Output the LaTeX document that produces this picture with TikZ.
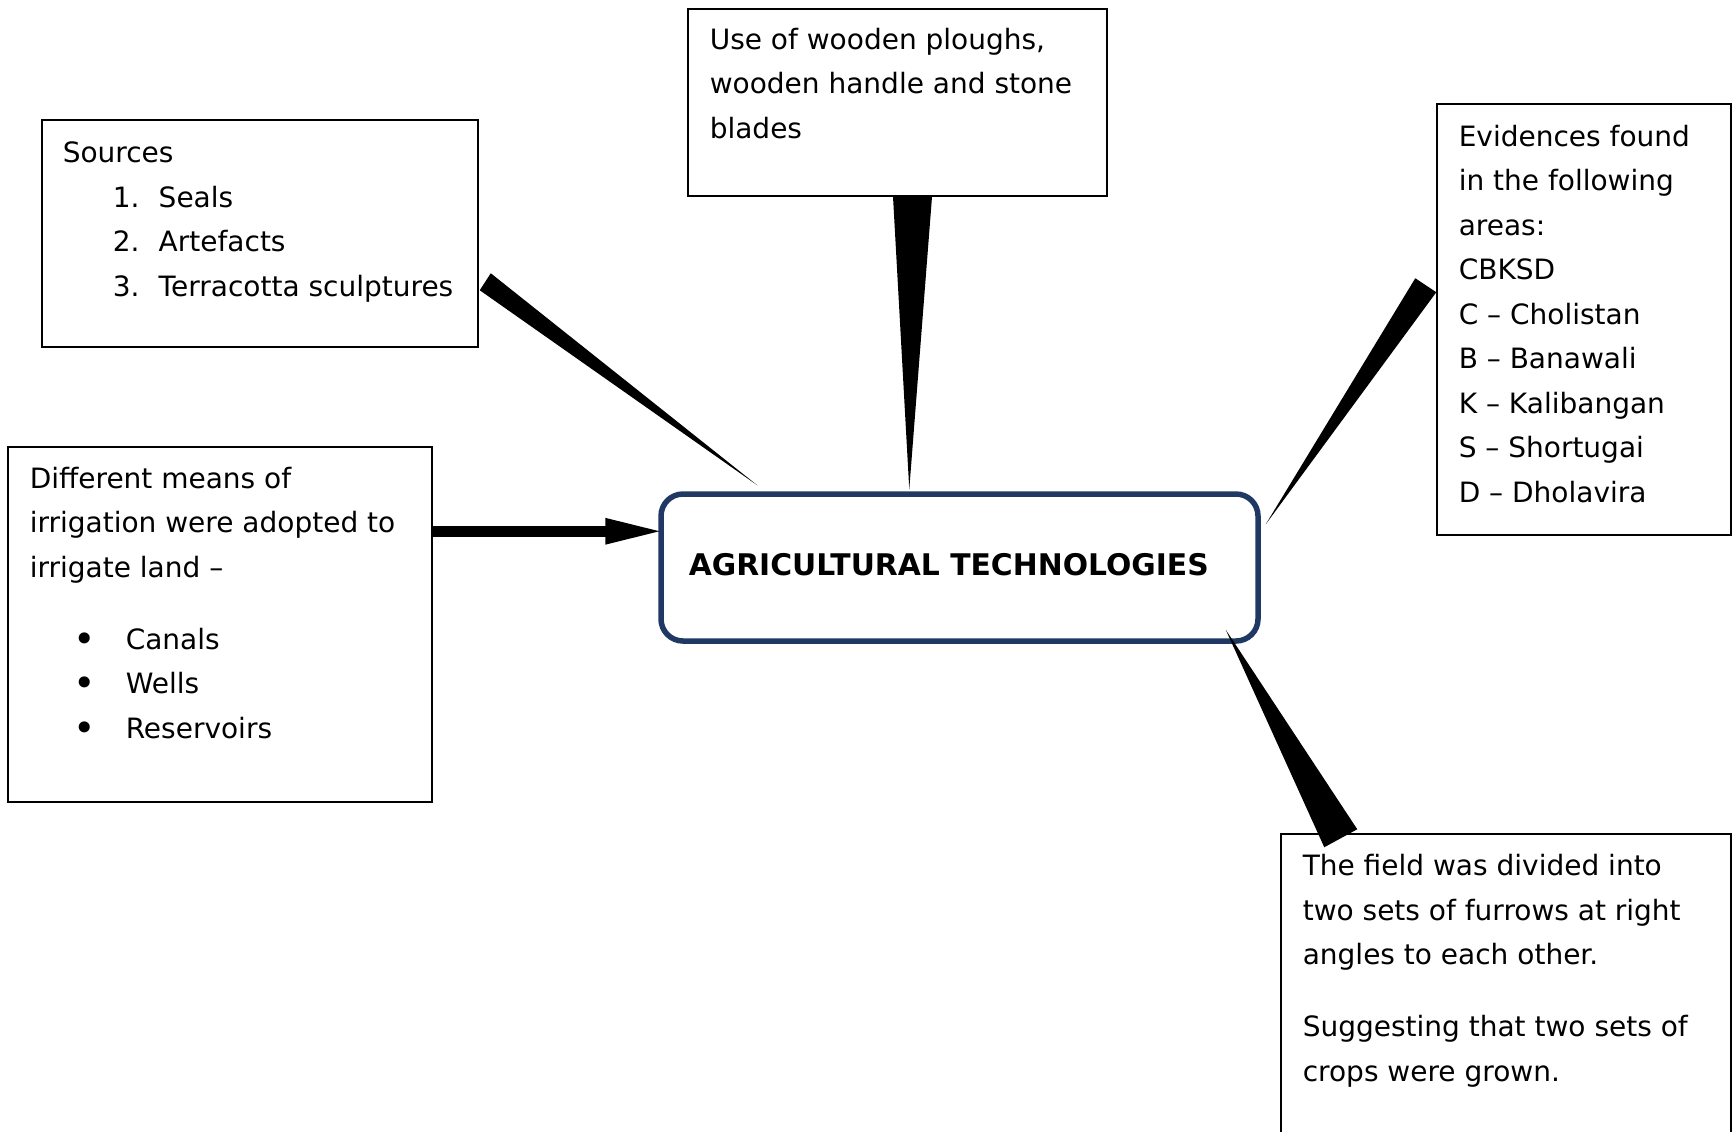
\documentclass[tikz,border=0pt]{standalone}
\usepackage{fontspec}
\setmainfont{DejaVu Sans}
\usetikzlibrary{calc,arrows.meta}
\definecolor{hubnavy}{RGB}{31,56,100}

\tikzset{every picture/.style={line width=0.75pt}}
\tikzset{
  panel/.style={draw, rectangle, inner sep=0pt},
  hub/.style={draw=hubnavy, line width=2.75pt, rounded corners=11pt, inner sep=0pt},
  txt/.style={anchor=base west, inner sep=0pt, align=left, font=\fontsize{14}{22.25}\selectfont},
  spike/.style={fill=black},
  fatarrow/.style={line width=5.5pt, -{Triangle[length=30.5pt,width=11.5pt]}},
}
\newcommand{\numitem}[1]{\hspace*{25pt}\makebox[23pt][l]{#1}}
\newcommand{\dotitem}{\hspace*{15.5pt}\makebox[24pt]{\raisebox{-1.5pt}{\fontsize{19}{0}\selectfont •}}\hspace*{8.5pt}}

\begin{document}
\begin{tikzpicture}[x=0.5pt,y=0.5pt,yscale=-1,xscale=1]
\useasboundingbox (0,0) rectangle (1732,1131);

%Shape: Rounded Rect
\node [hub, minimum width=298.5pt, minimum height=73.5pt] (agri) at (959.5,567.5) {};
%Shape: Rectangle
\node [panel, minimum width=218pt, minimum height=113.5pt] (sources) at (260,233.5) {};
%Shape: Rectangle
\node [panel, minimum width=209.5pt, minimum height=93.5pt] (ploughs) at (897.5,102.5) {};
%Shape: Rectangle
\node [panel, minimum width=147pt, minimum height=215.5pt] (evidence) at (1584,319.5) {};
%Shape: Rectangle
\node [panel, minimum width=212pt, minimum height=177.5pt] (irrigation) at (220,624.5) {};
%Shape: Rectangle
\node [panel, minimum width=225pt, minimum height=183pt] (furrows) at (1506,1017) {};

%Spikes
\fill [spike] ($(sources.north east)+(12,154)$) -- ($(sources.north east)+(1,171)$) -- ($(agri.north west)+(99,-6)$) -- cycle;
\fill [spike] ($(ploughs.south)+(-4.5,0)$) -- ($(ploughs.south)+(34.5,0)$) -- ($(agri.north west)+(251,-2)$) -- cycle;
\fill [spike] ($(evidence.north west)+(-21,175)$) -- ($(evidence.north west)+(0,189)$) -- ($(agri.north east)+(5,33)$) -- cycle;
\fill [spike] ($(furrows.north west)+(44,14)$) -- ($(furrows.north west)+(77,-4)$) -- ($(agri.south east)+(-35,-14)$) -- cycle;

%Arrow
\draw [fatarrow] ($(irrigation.north east)+(0,85)$) coordinate (arrtail) -- ($(arrtail -| agri.west)+(8,0)$);

% Text Node (anchored on the last line)
\node [txt, font=\fontsize{14.9}{20}\selectfont\bfseries] (agrilabel) at (688,575) {AGRICULTURAL TECHNOLOGIES};
% Text Node
\node [txt] (sourceslabel) at (62,296) {Sources\\
\numitem{1.}Seals\\
\numitem{2.}Artefacts\\
\numitem{3.}Terracotta sculptures};
% Text Node
\node [txt] (plougheslabel) at (709,138) {Use of wooden ploughs,\\wooden handle and stone\\blades};
% Text Node
\node [txt] (evidencelabel) at (1458,502) {Evidences found\\in the following\\areas:\\CBKSD\\C – Cholistan\\B – Banawali\\K – Kalibangan\\S – Shortugai\\D – Dholavira};
% Text Node
\node [txt] (irrigationlabel) at (29,738) {Different means of\\irrigation were adopted to\\irrigate land –\\[13.75pt]
\dotitem Canals\\
\dotitem Wells\\
\dotitem Reservoirs};
% Text Node
\node [txt] (furrowslabel) at (1302,1081) {The field was divided into\\two sets of furrows at right\\angles to each other.\\[13.75pt]Suggesting that two sets of\\crops were grown.};

\end{tikzpicture}
\end{document}
